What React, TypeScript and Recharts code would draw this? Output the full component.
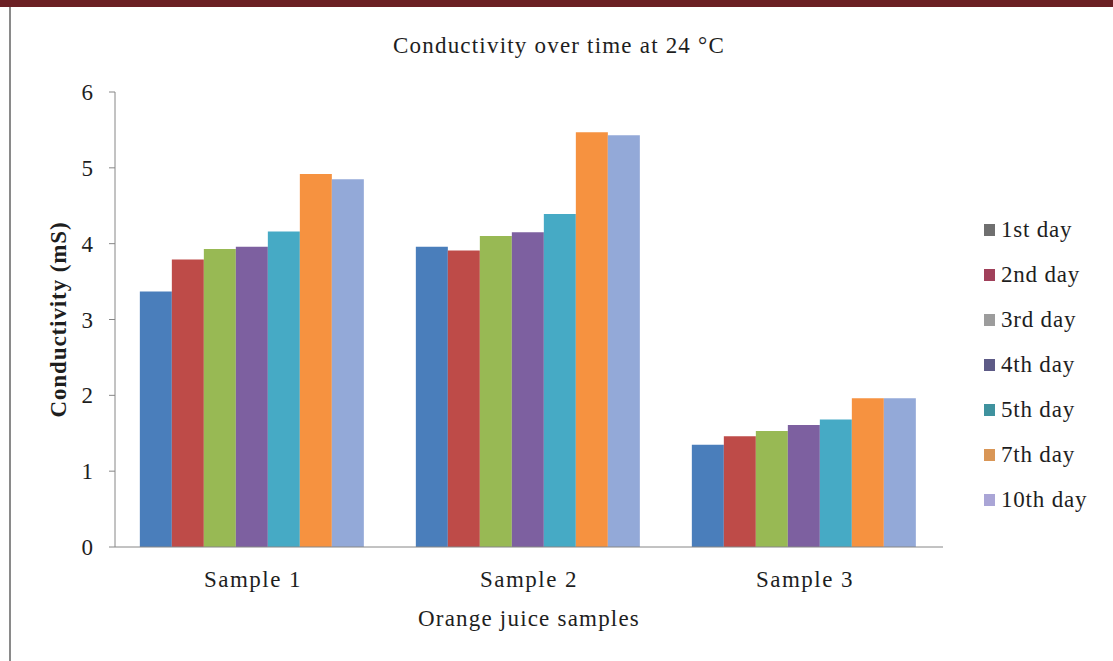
import { Bar, BarChart, XAxis, YAxis } from "recharts";

const categories = ["Sample 1", "Sample 2", "Sample 3"];
const day1 = [3.37, 3.96, 1.35];
const day2 = [3.79, 3.91, 1.46];
const day3 = [3.93, 4.1, 1.53];
const day4 = [3.96, 4.15, 1.61];
const day5 = [4.16, 4.39, 1.68];
const day7 = [4.92, 5.47, 1.96];
const day10 = [4.85, 5.43, 1.96];
const yTicks = [0, 1, 2, 3, 4, 5, 6];

const series = [
  { key: "d1", name: "1st day", values: day1, color: "#4a7ebb", swatch: "#6f6f6f" },
  { key: "d2", name: "2nd day", values: day2, color: "#be4b48", swatch: "#a0405a" },
  { key: "d3", name: "3rd day", values: day3, color: "#98b954", swatch: "#9c9c9c" },
  { key: "d4", name: "4th day", values: day4, color: "#7d60a0", swatch: "#5d5a86" },
  { key: "d5", name: "5th day", values: day5, color: "#46aac5", swatch: "#3f929e" },
  { key: "d7", name: "7th day", values: day7, color: "#f69240", swatch: "#d99656" },
  { key: "d10", name: "10th day", values: day10, color: "#93a9d8", swatch: "#aaa5d6" },
];

const data = categories.map((name, i) => {
  const row: Record<string, string | number> = { name };
  series.forEach((s) => (row[s.key] = s.values[i]));
  return row;
});

const serif = '"Liberation Serif", "Times New Roman", serif';
const textColor = "#1e1e1e";

export default function App() {
  return (
    <div style={{ position: "absolute", left: 0, top: 0, width: 1113, height: 661, overflow: "hidden", background: "#fff", fontFamily: serif }}>
      <div style={{ position: "absolute", left: 0, top: 0, width: 1113, height: 7, background: "#6b2024" }} />
      <div style={{ position: "absolute", left: 9, top: 7, width: 2, height: 654, background: "#8a8a8a" }} />

      <div style={{ position: "absolute", left: 0, top: 34, width: 1118, textAlign: "center", fontSize: 23, lineHeight: "23px", letterSpacing: 1.2, color: textColor }}>
        Conductivity over time at 24 °C
      </div>

      <BarChart
        width={1113}
        height={661}
        data={data}
        margin={{ top: 92, right: 170, bottom: 0, left: 0 }}
        barGap={0}
        barCategoryGap="9%"
        style={{ position: "absolute", left: 0, top: 0 }}
      >
        <XAxis
          dataKey="name"
          height={114}
          stroke="#868686"
          tickLine={false}
          tickSize={0}
          tickMargin={24}
          tick={{ fontSize: 23, fontFamily: serif, fill: textColor, letterSpacing: 1.5 }}
          label={{ value: "Orange juice samples", position: "insideTop", offset: 63, style: { fontSize: 23, fontFamily: serif, fill: textColor, letterSpacing: 1.2 } }}
        />
        <YAxis
          width={115}
          domain={[0, 6]}
          ticks={yTicks}
          stroke="#868686"
          tickSize={6}
          tickMargin={16}
          tick={{ fontSize: 23, fontFamily: serif, fill: textColor }}
          label={{
            value: "Conductivity (mS)",
            angle: -90,
            position: "insideLeft",
            offset: 58,
            style: { textAnchor: "middle", fontSize: 23, fontWeight: "bold", fontFamily: serif, fill: textColor, letterSpacing: 0.9 },
          }}
        />
        {series.map((s) => (
          <Bar key={s.key} dataKey={s.key} name={s.name} fill={s.color} isAnimationActive={false} />
        ))}
      </BarChart>

      <div style={{ position: "absolute", left: 984, top: 207, color: textColor, fontSize: 23, letterSpacing: 0.8 }}>
        {series.map((s) => (
          <div key={s.key} style={{ height: 45, lineHeight: "45px", display: "flex", alignItems: "center", whiteSpace: "nowrap" }}>
            <span style={{ display: "inline-block", width: 11, height: 12, background: s.swatch, marginRight: 6 }} />
            {s.name}
          </div>
        ))}
      </div>
    </div>
  );
}
